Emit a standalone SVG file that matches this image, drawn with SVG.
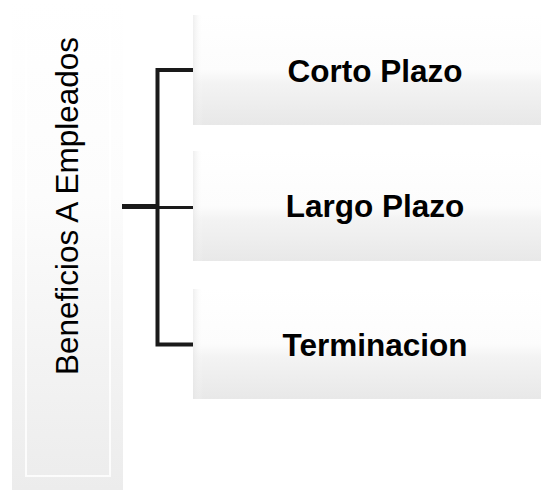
<svg xmlns="http://www.w3.org/2000/svg" width="541" height="491" viewBox="0 0 541 491">
<defs>
<linearGradient id="gL" x1="0" y1="0" x2="0" y2="1">
<stop offset="0" stop-color="#ffffff"/>
<stop offset="0.4" stop-color="#fcfcfc"/>
<stop offset="1" stop-color="#ececec"/>
</linearGradient>
<linearGradient id="gR" x1="0" y1="0" x2="0" y2="1">
<stop offset="0" stop-color="#ffffff"/>
<stop offset="0.5" stop-color="#fcfcfc"/>
<stop offset="0.62" stop-color="#f3f3f3"/>
<stop offset="1" stop-color="#e8e8e8"/>
</linearGradient>
<linearGradient id="gEdge" x1="0" y1="0" x2="1" y2="0">
<stop offset="0" stop-color="#e4e4e4" stop-opacity="0.6"/>
<stop offset="1" stop-color="#ffffff" stop-opacity="0"/>
</linearGradient>
</defs>
<style>
.lbl{font-family:"Liberation Sans",Arial,sans-serif;font-size:31.5px;fill:#000;text-anchor:middle}
.b{font-weight:bold}
.con{fill:none;stroke:#1a1a1a;stroke-linecap:butt}
</style>
<g id="root">
<rect x="12" y="0" width="111" height="490" fill="url(#gL)"/>
<path d="M26,0 V476 H110 V0" fill="none" stroke="#ffffff" stroke-width="2" opacity="0.8"/>
<text class="lbl" transform="translate(78,206) rotate(-90)">Beneficios A Empleados</text>
</g>
<g id="n1">
<rect x="193" y="15" width="348" height="110" fill="url(#gR)"/>
<rect x="193" y="15" width="10" height="110" fill="url(#gEdge)"/>
<text class="lbl b" x="375" y="82">Corto Plazo</text>
</g>
<g id="n2">
<rect x="193" y="151" width="348" height="110" fill="url(#gR)"/>
<rect x="193" y="151" width="10" height="110" fill="url(#gEdge)"/>
<text class="lbl b" x="375" y="217">Largo Plazo</text>
</g>
<g id="n3">
<rect x="193" y="289" width="348" height="110" fill="url(#gR)"/>
<rect x="193" y="289" width="10" height="110" fill="url(#gEdge)"/>
<text class="lbl b" x="375" y="356">Terminacion</text>
</g>
<g id="connectors">
<path class="con" d="M193,70 H157.5 V344.5 H193" stroke-width="4"/>
<path class="con" d="M122,206.5 H157" stroke-width="5"/>
<path class="con" d="M157,207.5 H193" stroke-width="3"/>
</g>
</svg>
